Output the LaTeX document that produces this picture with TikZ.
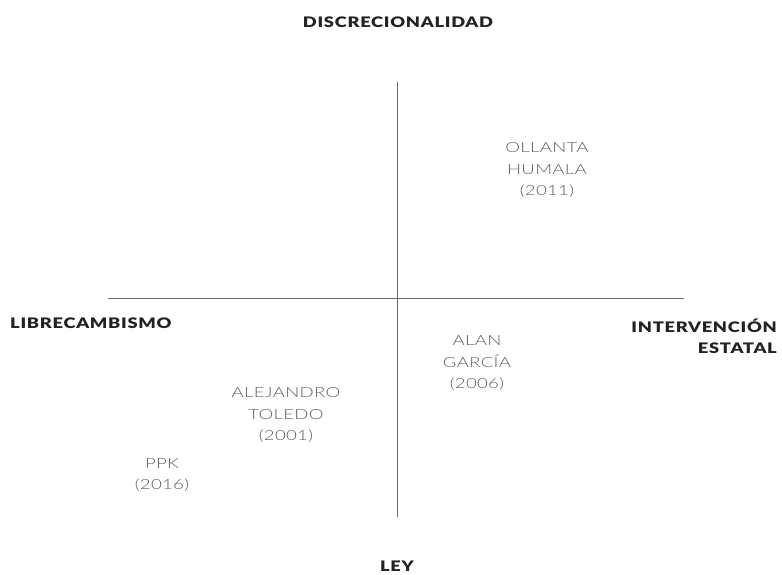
\documentclass[tikz,border=0pt]{standalone}
\usepackage{fontspec}
\setmainfont{Lato}
\newfontfamily\lightfont{Lato Light}[FakeStretch=1.33, LetterSpace=2]
\newfontfamily\heavyfont{Lato Black}[FakeStretch=1.26, LetterSpace=5]
\definecolor{headcol}{HTML}{222222}
\definecolor{prescol}{HTML}{5E5E5E}
\definecolor{axiscol}{HTML}{6A6A6A}
\begin{document}
\begin{tikzpicture}[x=1pt,y=-1pt,
  axis/.style={draw=axiscol, line width=0.9pt},
  head/.style={font=\heavyfont\fontsize{14.5}{20.5}\selectfont, text=headcol, inner sep=0pt},
  pres/.style={font=\lightfont\fontsize{14}{21.3}\selectfont, text=prescol, align=center, inner sep=0pt}]
\useasboundingbox (0,0) rectangle (782,575);
\coordinate (vt) at (397,82);
\coordinate (vb) at (397,517);
\coordinate (hl) at (108,298);
\coordinate (hr) at (684,298);
\draw[axis] (vt) -- (vb);
\draw[axis] (hl) -- (hr);
\node[head] (disc) at (398,22.5) {DISCRECIONALIDAD};
\node[head, anchor=west] (libre) at (10,323) {LIBRECAMBISMO};
\node[head, anchor=east, align=right] (interv) at (777,336.5) {INTERVENCIÓN\\ESTATAL};
\node[head] (ley) at (397,566.5) {LEY};
\node[pres] (ollanta) at (547,170) {OLLANTA\\HUMALA\\(2011)};
\node[pres] (alan) at (477,363) {ALAN\\GARCÍA\\(2006)};
\node[pres] (toledo) at (286,415) {ALEJANDRO\\TOLEDO\\(2001)};
\node[pres] (ppk) at (162,475) {PPK\\(2016)};
\end{tikzpicture}
\end{document}
